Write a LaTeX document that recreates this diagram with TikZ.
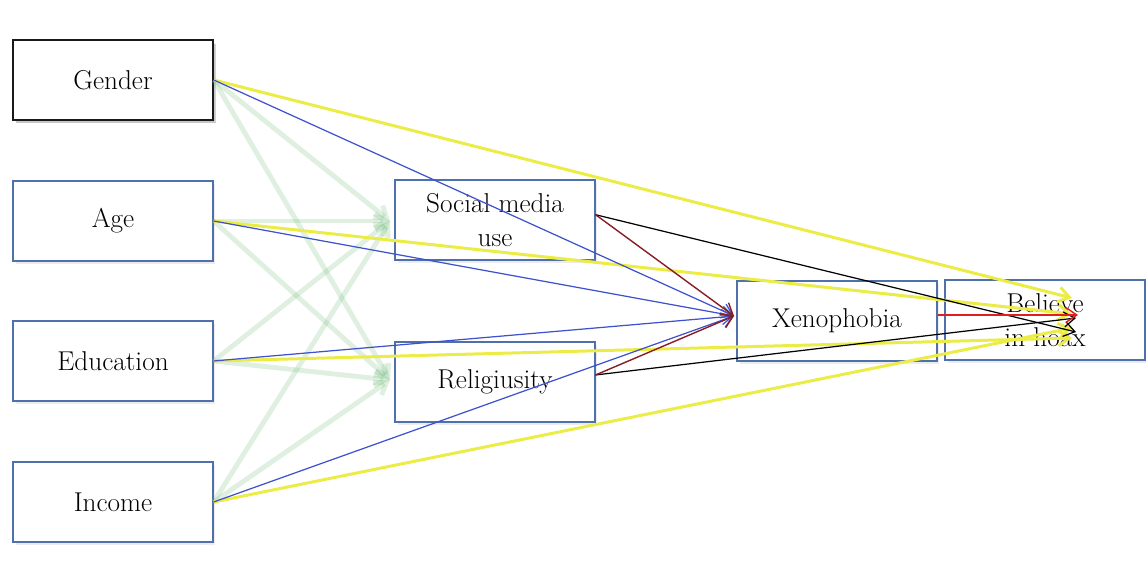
\documentclass[tikz,border=0pt]{standalone}
\usetikzlibrary{arrows.meta,shadows}

\definecolor{boxblue}{RGB}{80,112,172}
\definecolor{pathyellow}{RGB}{236,236,70}
\definecolor{pathblue}{RGB}{62,82,205}
\definecolor{pathred}{RGB}{225,30,30}
\definecolor{darkred}{RGB}{135,30,35}
\definecolor{pathgreen}{RGB}{110,185,120}

\tikzset{
    var/.style={draw=boxblue, line width=0.7pt, fill=white, minimum width=4cm, minimum height=1.6cm,
        inner sep=0pt, align=center, font=\fontsize{15.5}{19}\selectfont,
        drop shadow={opacity=0.15, shadow xshift=0.5mm, shadow yshift=-0.6mm}},
    tip/.style={-{Straight Barb[length=2.2mm,width=3mm]}},
    greenpath/.style={tip, draw=pathgreen, line width=2.8pt, opacity=0.22},
    yellowpath/.style={tip, draw=pathyellow, line width=1.7pt},
    bluepath/.style={tip, draw=pathblue, line width=0.7pt},
    blackpath/.style={tip, draw=black, line width=0.7pt},
    redpath/.style={tip, draw=darkred, line width=0.8pt}
}

\begin{document}
\begin{tikzpicture}[x=0.02cm, y=-0.02cm]
    \useasboundingbox (0,0) rectangle (1146,570);

    \node[var, draw=black!90, line width=0.9pt, drop shadow={opacity=0.35, shadow xshift=0.6mm, shadow yshift=-0.7mm}] (gender) at (113,80) {Gender};
    \node[var] (age) at (113,221) {Age};
    \node[var] (edu) at (113,361) {Education};
    \node[var] (income) at (113,502) {Income};
    \node[var] (sm) at (495,220) {Social media\\use};
    \node[var] (rel) at (495,382) {Religiusity};
    \node[var] (xen) at (837,321) {Xenophobia};
    \node[var] (hoax) at (1045,320) {Believe\\in hoax};

    % arrow ends
    \coordinate (smtip) at (390,221);
    \coordinate (reltip) at (390,380);
    \coordinate (xentip) at (734,316);
    \coordinate (gtip) at (1072,298);
    \coordinate (atip) at (1072,314);
    \coordinate (etip) at (1072,338);
    \coordinate (itip) at (1072,328);
    \coordinate (smhoax) at (1076,332);
    \coordinate (relhoax) at (1076,318);
    \coordinate (xenhoax) at (1078,315);

    % background variables -> mediators
    \foreach \v in {gender,age,edu,income}
        \foreach \t in {smtip,reltip}
            \draw[greenpath] (\v.east) -- (\t);

    % background variables -> belief
    \draw[yellowpath] (gender.east) -- (gtip);
    \draw[yellowpath] (age.east) -- (atip);
    \draw[yellowpath] (edu.east) -- (etip);
    \draw[yellowpath] (income.east) -- (itip);

    % background variables -> xenophobia
    \foreach \v in {gender,age,edu,income}
        \draw[bluepath] (\v.east) -- (xentip);

    % mediators
    \draw[blackpath] (sm.3) -- (smhoax);
    \draw[blackpath] (rel.4) -- (relhoax);
    \draw[redpath] (sm.3) -- (xentip);
    \draw[redpath] (rel.4) -- (xentip);
    \draw[redpath, draw=pathred] (xen.east |- xenhoax) -- (xenhoax);
\end{tikzpicture}
\end{document}
